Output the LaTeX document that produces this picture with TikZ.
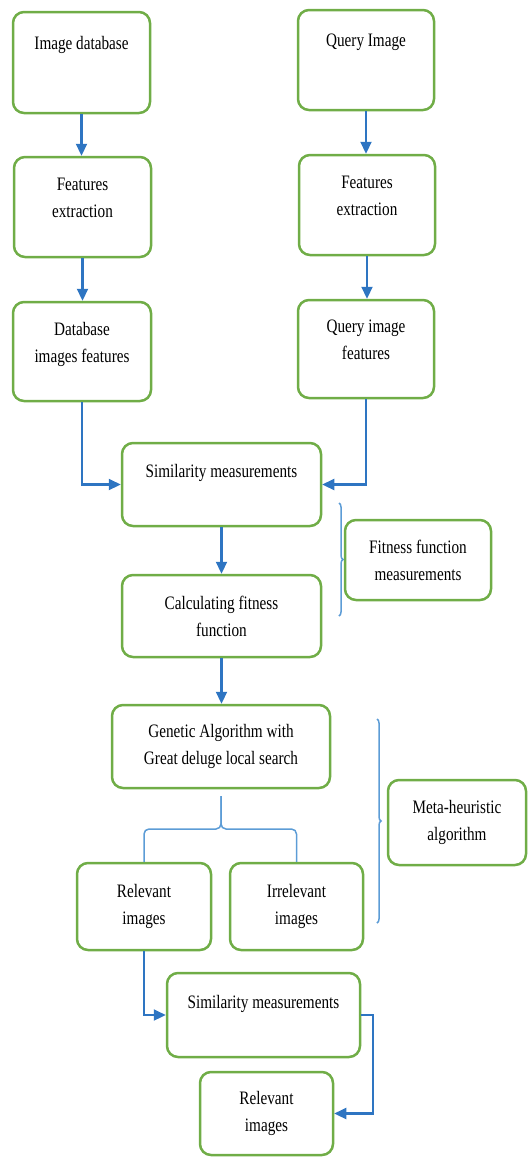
\documentclass[tikz,border=0pt]{standalone}
\usepackage{fontspec}
\setmainfont{Liberation Serif}[FakeStretch=0.8]
\usepackage{tikz}
\usetikzlibrary{arrows.meta,decorations.pathreplacing}
\definecolor{boxgreen}{rgb}{0.44,0.68,0.28}
\definecolor{linkblue}{rgb}{0.18,0.46,0.76}
\definecolor{braceblue}{rgb}{0.36,0.61,0.84}

\begin{document}
\begin{tikzpicture}[x=1pt, y=-1pt,
        box/.style={draw=boxgreen, line width=2.5pt, rounded corners=11pt, align=center, inner sep=2pt, font=\fontsize{19}{27}\selectfont},
        link/.style={draw=linkblue, line width=2.2pt, -{Triangle[width=11pt,length=12pt]}},
        bracel/.style={draw=braceblue, line width=1.5pt}]
        \useasboundingbox (0,0) rectangle (528,1157);

        \node[box, minimum width=137pt, minimum height=101pt] (imgdb) at (81.5,62.5) {Image database\\[12pt]\mbox{}};
        \node[box, minimum width=136pt, minimum height=100pt] (query) at (366,60) {Query Image\\[12pt]\mbox{}};
        \node[box, minimum width=137pt, minimum height=100pt] (feat1) at (82.5,207) {Features\\extraction\\[-9pt]\mbox{}};
        \node[box, minimum width=136pt, minimum height=100pt] (feat2) at (367,205) {Features\\extraction\\[-9pt]\mbox{}};
        \node[box, minimum width=138pt, minimum height=99pt] (dbfeat) at (82,351.5) {Database\\images features\\[-9pt]\mbox{}};
        \node[box, minimum width=136pt, minimum height=98pt] (qfeat) at (366,349) {Query image\\features\\[-9pt]\mbox{}};
        \node[box, minimum width=199pt, minimum height=83pt] (sim1) at (221.5,484.5) {Similarity measurements\\\mbox{}};
        \node[box, minimum width=199pt, minimum height=82pt] (calc) at (221.5,616) {Calculating fitness\\function};
        \node[box, minimum width=146pt, minimum height=80pt] (fitbox) at (418,560) {Fitness function\\measurements};
        \node[box, minimum width=218pt, minimum height=83pt] (ga) at (221,746.5) {Genetic Algorithm with\\Great deluge local search};
        \node[box, minimum width=138pt, minimum height=85pt] (meta) at (457,822.5) {Meta-heuristic\\algorithm};
        \node[box, minimum width=134pt, minimum height=87pt] (rel) at (144,906.5) {Relevant\\images};
        \node[box, minimum width=133pt, minimum height=87pt] (irr) at (296.5,906.5) {Irrelevant\\images};
        \node[box, minimum width=193pt, minimum height=84pt] (sim2) at (263.5,1015) {Similarity measurements\\\mbox{}};
        \node[box, minimum width=133pt, minimum height=83pt] (rel2) at (266.5,1113.5) {Relevant\\images};

        \foreach \a/\b in {imgdb/feat1, feat1/dbfeat, query/feat2, feat2/qfeat, sim1/calc, calc/ga} {
            \draw[link] (\a.south) -- (\a.south |- \b.north);
        }
        \draw[link] (dbfeat.south) |- (sim1.west);
        \draw[link] (qfeat.south) |- (sim1.east);
        \draw[link] (rel.south) |- (sim2.west);
        \draw[link] (sim2.east) -- ++(12,0) |- (rel2.east);

        \coordinate (gatip) at (221,796);
        \coordinate (gabar) at (221,829);
        \draw[bracel, rounded corners=5pt] (rel.north) |- (gabar) -- (gatip);
        \draw[bracel, rounded corners=5pt] (irr.north) |- (gabar) -- (gatip);

        \coordinate (fittop) at (339,503);
        \coordinate (fitbot) at (339,616);
        \draw[bracel, decorate, decoration={brace, amplitude=4pt}] (fittop) -- (fitbot);
        \coordinate (metatop) at (377,719);
        \coordinate (metabot) at (377,923);
        \draw[bracel, decorate, decoration={brace, amplitude=4pt}] (metatop) -- (metabot);
    \end{tikzpicture}
\end{document}
